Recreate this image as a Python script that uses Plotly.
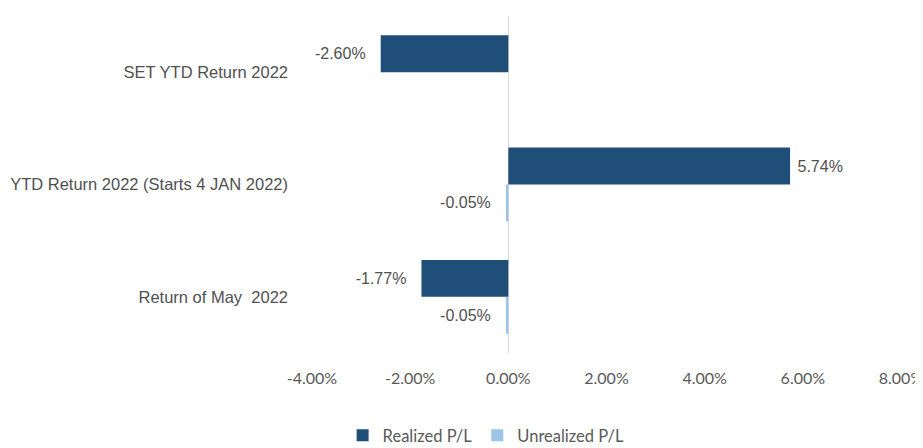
import plotly.graph_objects as go

categories = ["SET YTD Return 2022", "YTD Return 2022 (Starts 4 JAN 2022)", "Return of May  2022"]
realized = [-2.60, 5.74, -1.77]
unrealized = [None, -0.05, -0.05]
tick_vals = [-4, -2, 0, 2, 4, 6, 8]
tick_text = ["-4.00%", "-2.00%", "0.00%", "2.00%", "4.00%", "6.00%", "8.00%"]

NB = "\u00a0"

def labels(vals):
    out = []
    for v in vals:
        if v is None:
            out.append("")
        elif v < 0:
            out.append(f"{v:.2f}%" + NB * 2 + "\u2009")
        else:
            out.append(NB + f"{v:.2f}%")
    return out

label_font = "Liberation Sans, Arial, sans-serif"
tick_font = "Lato, Open Sans, sans-serif"

fig = go.Figure()
fig.add_trace(go.Bar(
    y=categories, x=realized, orientation="h", name="Realized P/L",
    marker=dict(color="#1F4E79", line=dict(width=0)),
    text=labels(realized), textposition="outside", cliponaxis=False,
    textfont=dict(family=label_font, size=16, color="#505050"),
))
fig.add_trace(go.Bar(
    y=categories, x=unrealized, orientation="h", name="Unrealized P/L",
    marker=dict(color="#9DC3E6", line=dict(width=0)),
    text=labels(unrealized), textposition="outside", cliponaxis=False,
    textfont=dict(family=label_font, size=16, color="#505050"),
))

fig.update_layout(
    width=923, height=448,
    margin=dict(l=304, r=30, t=8, b=103, autoexpand=False),
    paper_bgcolor="white", plot_bgcolor="white",
    barmode="group", bargap=0.342, bargroupgap=0,
    showlegend=True,
    legend=dict(orientation="h", xref="container", yref="paper",
                x=0.518, xanchor="center", y=-0.297, yanchor="bottom",
                font=dict(family=tick_font, size=16.5, color="#595959"),
                itemwidth=30, traceorder="normal"),
    xaxis=dict(range=[-4.0001, 8.0001], tickvals=tick_vals, ticktext=tick_text, automargin=False,
               showgrid=False, zeroline=True, zerolinecolor="#D9D9D9", zerolinewidth=1,
               showline=False, ticks="", ticklabelstandoff=14,
               tickfont=dict(family=tick_font, size=16, color="#595959")),
    yaxis=dict(autorange="reversed", showgrid=False, showline=False, ticks="",
               ticklabelstandoff=23, automargin=False,
               tickfont=dict(family=label_font, size=16.5, color="#505050")),
)

fig.write_html("out.html")
